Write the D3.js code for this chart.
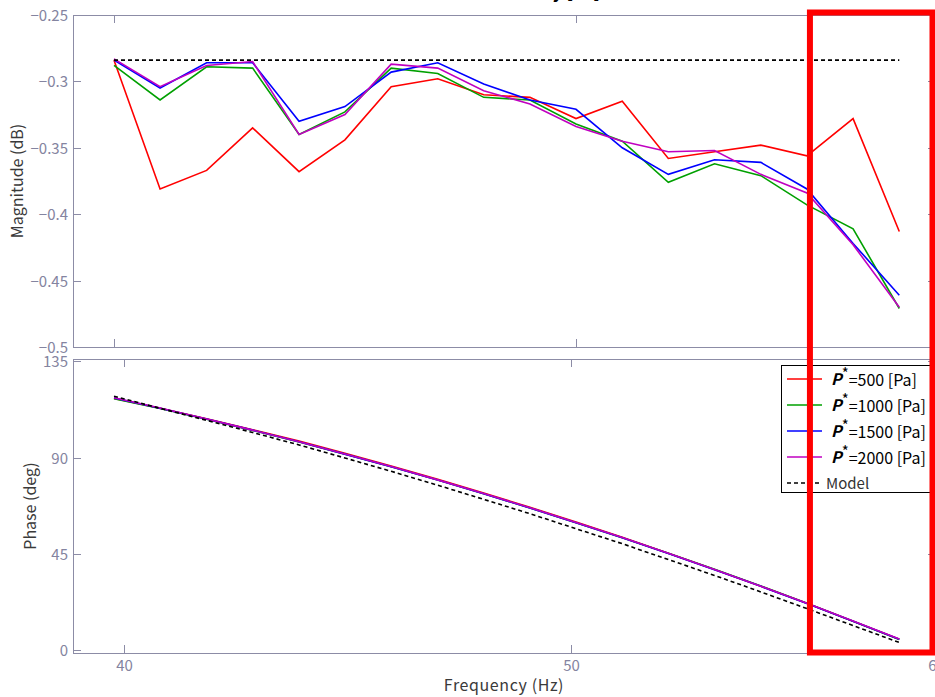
<!DOCTYPE html>
<html>
<head>
<meta charset="utf-8">
<script src="https://cdn.jsdelivr.net/npm/d3@7/dist/d3.min.js"></script>
<style>
  html, body { margin: 0; padding: 0; background: #fff; }
  svg { display: block; }
  text { font-family: "Noto Sans CJK JP", "Noto Sans", sans-serif; }
</style>
</head>
<body>
<svg id="chart" width="935" height="697"></svg>
<script>
// Frequency points (Hz), log-spaced
const freq = [40.00, 40.90, 41.83, 42.77, 43.74, 44.72, 45.73, 46.77, 47.82,
              48.90, 50.00, 51.13, 52.28, 53.46, 54.67, 55.90, 57.16, 58.45];

// Magnitude (dB) per pressure setting
const mag500  = [-0.284, -0.381, -0.367, -0.335, -0.368, -0.344, -0.304, -0.298, -0.310,
                 -0.312, -0.328, -0.315, -0.358, -0.353, -0.348, -0.356, -0.328, -0.413];
const mag1000 = [-0.288, -0.314, -0.289, -0.290, -0.340, -0.323, -0.290, -0.294, -0.312,
                 -0.314, -0.332, -0.345, -0.376, -0.362, -0.371, -0.393, -0.411, -0.471];
const mag1500 = [-0.284, -0.305, -0.286, -0.286, -0.330, -0.319, -0.293, -0.286, -0.302,
                 -0.314, -0.321, -0.350, -0.370, -0.359, -0.361, -0.381, -0.422, -0.461];
const mag2000 = [-0.283, -0.304, -0.288, -0.285, -0.340, -0.325, -0.287, -0.290, -0.307,
                 -0.317, -0.334, -0.345, -0.353, -0.352, -0.370, -0.384, -0.423, -0.470];
const magModel = [-0.284, -0.284, -0.284, -0.284, -0.284, -0.284, -0.284, -0.284, -0.284,
                  -0.284, -0.284, -0.284, -0.284, -0.284, -0.284, -0.284, -0.284, -0.284];

// Phase (deg) per pressure setting
const ph500  = [117.6, 113.0, 108.1, 103.0, 97.7, 92.0, 86.1, 79.9, 73.5,
                66.8, 59.9, 52.8, 45.4, 37.8, 30.0, 22.0, 13.6, 5.2];
const ph1000 = [117.5, 112.9, 107.9, 102.7, 97.3, 91.6, 85.7, 79.5, 73.1,
                66.5, 59.6, 52.6, 45.3, 37.9, 30.1, 22.0, 13.6, 5.1];
const ph1500 = [117.8, 113.0, 108.0, 102.8, 97.4, 91.6, 85.7, 79.5, 73.1,
                66.5, 59.6, 52.6, 45.2, 37.7, 29.9, 21.9, 13.6, 5.2];
const ph2000 = [117.9, 113.1, 108.0, 102.8, 97.4, 91.7, 85.8, 79.6, 73.2,
                66.6, 59.7, 52.7, 45.3, 37.8, 30.0, 22.0, 13.7, 5.3];
const phModel = [118.6, 113.0, 107.4, 101.7, 95.9, 89.8, 83.6, 77.1, 70.5,
                 63.8, 56.8, 49.8, 42.4, 35.0, 27.3, 19.5, 11.6, 3.7];

const pressures = [500, 1000, 1500, 2000];
const seriesColors = ["#ff0000", "#00a000", "#0000ff", "#c000c0"];
const magTicks = [-0.25, -0.3, -0.35, -0.4, -0.45, -0.5];
const phaseTicks = [0, 45, 90, 135];
const freqTicks = [40, 50, 60];
const highlightFrom = 55.9;   // start of the highlighted high-frequency band (Hz)

const svg = d3.select("#chart");
const axisColor = "#8c8ca6";
const tickTextColor = "#8484a0";
const labelColor = "#3a3a3a";

const left = 73, right = 935;
const top1 = 15, bot1 = 347;
const top2 = 359, bot2 = 653;

// data scale shared by both panels
const x = d3.scaleLog().domain([40, 50]).range([114, 576]);
// tick placement of the lower frequency axis
const xAxisLow = d3.scaleLog().domain([40, 50]).range([124, 571]);
const yMag = d3.scaleLinear().domain([-0.5, -0.25]).range([bot1, top1]);
const yPh = d3.scaleLinear().domain([-1.2, 136]).range([bot2, top2]);

const fmt = v => d3.format("~g")(v);

function frame(t, b) {
  svg.append("rect").attr("x", left + 0.5).attr("y", t + 0.5)
    .attr("width", right - left).attr("height", b - t)
    .attr("fill", "none").attr("stroke", axisColor).attr("stroke-width", 1);
}

// title (sits above the visible area, only descenders show)
svg.append("text").attr("x", 600).attr("y", -2).attr("text-anchor", "end")
  .attr("font-size", 17).attr("font-weight", "bold").attr("fill", "#000")
  .text("Sensitivity [Pa]");

// ---------- Magnitude panel ----------
frame(top1, bot1);
magTicks.forEach(v => {
  const yy = Math.round(yMag(v)) + 0.5;
  svg.append("line").attr("x1", left).attr("x2", left + 8).attr("y1", yy).attr("y2", yy)
    .attr("stroke", axisColor);
  svg.append("line").attr("x1", right - 7).attr("x2", right).attr("y1", yy).attr("y2", yy)
    .attr("stroke", axisColor);
  svg.append("text").attr("x", 68).attr("y", yy).attr("dy", "0.35em")
    .attr("text-anchor", "end").attr("font-size", 15).attr("fill", tickTextColor)
    .text(fmt(v));
});
freqTicks.forEach(f => {
  const xx = Math.round(x(f)) + 0.5;
  if (xx > right) return;
  svg.append("line").attr("x1", xx).attr("x2", xx).attr("y1", top1).attr("y2", top1 + 8)
    .attr("stroke", axisColor);
  svg.append("line").attr("x1", xx).attr("x2", xx).attr("y1", bot1).attr("y2", bot1 - 8)
    .attr("stroke", axisColor);
});
svg.append("text")
  .attr("transform", `translate(23,${(top1 + bot1) / 2}) rotate(-90)`)
  .attr("text-anchor", "middle").attr("font-size", 16).attr("fill", labelColor)
  .text("Magnitude (dB)");

const magLine = d3.line().x((d, i) => x(freq[i])).y(d => yMag(d));
[mag500, mag1000, mag1500, mag2000].forEach((s, k) => {
  svg.append("path").datum(s).attr("d", magLine).attr("fill", "none")
    .attr("stroke", seriesColors[k]).attr("stroke-width", 1.6);
});
svg.append("path").datum(magModel).attr("d", magLine).attr("fill", "none")
  .attr("stroke", "#000").attr("stroke-width", 1.6).attr("stroke-dasharray", "4,3");

// ---------- Phase panel ----------
frame(top2, bot2);
phaseTicks.forEach(v => {
  const yy = Math.round(yPh(v)) + 0.5;
  svg.append("line").attr("x1", left).attr("x2", left + 8).attr("y1", yy).attr("y2", yy)
    .attr("stroke", axisColor);
  svg.append("line").attr("x1", right - 7).attr("x2", right).attr("y1", yy).attr("y2", yy)
    .attr("stroke", axisColor);
  svg.append("text").attr("x", 68).attr("y", yy).attr("dy", "0.35em")
    .attr("text-anchor", "end").attr("font-size", 15).attr("fill", tickTextColor)
    .text(fmt(v));
});
freqTicks.forEach(f => {
  const xx = Math.round(xAxisLow(f)) + 0.5;
  svg.append("line").attr("x1", xx).attr("x2", xx).attr("y1", top2).attr("y2", top2 + 8)
    .attr("stroke", axisColor);
  svg.append("line").attr("x1", xx).attr("x2", xx).attr("y1", bot2).attr("y2", bot2 - 8)
    .attr("stroke", axisColor);
  svg.append("text").attr("x", xx).attr("y", 671).attr("text-anchor", "middle")
    .attr("font-size", 15).attr("fill", tickTextColor).text(fmt(f));
});
svg.append("text")
  .attr("transform", `translate(36,${(top2 + bot2) / 2}) rotate(-90)`)
  .attr("text-anchor", "middle").attr("font-size", 16).attr("fill", labelColor)
  .text("Phase (deg)");
svg.append("text").attr("x", 504).attr("y", 691).attr("text-anchor", "middle")
  .attr("font-size", 16).attr("letter-spacing", "0.6px").attr("fill", labelColor)
  .text("Frequency  (Hz)");

const phLine = d3.line().x((d, i) => x(freq[i])).y(d => yPh(d));
[ph500, ph1000, ph1500, ph2000].forEach((s, k) => {
  svg.append("path").datum(s).attr("d", phLine).attr("fill", "none")
    .attr("stroke", seriesColors[k]).attr("stroke-width", 1.6);
});
svg.append("path").datum(phModel).attr("d", phLine).attr("fill", "none")
  .attr("stroke", "#000").attr("stroke-width", 1.6).attr("stroke-dasharray", "4,3");

// ---------- Legend ----------
const lg = svg.append("g");
lg.append("rect").attr("x", 781.5).attr("y", 365.5).attr("width", 152).attr("height", 127)
  .attr("fill", "#fff").attr("stroke", "#000").attr("stroke-width", 1);
const rowY = i => 379 + 26 * i;
pressures.forEach((p, i) => {
  lg.append("line").attr("x1", 787).attr("x2", 822).attr("y1", rowY(i)).attr("y2", rowY(i))
    .attr("stroke", seriesColors[i]).attr("stroke-width", 1.6);
  const t = lg.append("text").attr("x", 831).attr("y", rowY(i)).attr("dy", "0.4em")
    .attr("font-size", 16).attr("fill", "#000");
  t.append("tspan").attr("font-weight", "bold").attr("font-style", "italic").text("P");
  t.append("tspan").attr("dy", "-0.45em").attr("font-size", 15).text("*");
  t.append("tspan").attr("dy", "0.45em").text(`=${p} [Pa]`);
});
lg.append("line").attr("x1", 787).attr("x2", 822).attr("y1", rowY(4)).attr("y2", rowY(4))
  .attr("stroke", "#000").attr("stroke-width", 1.6).attr("stroke-dasharray", "4,3");
lg.append("text").attr("x", 826).attr("y", rowY(4)).attr("dy", "0.38em")
  .attr("font-size", 15).attr("fill", "#333").text("Model");

// ---------- Highlighted band ----------
svg.append("rect")
  .attr("x", x(highlightFrom) + 3).attr("y", 12.5)
  .attr("width", 932.5 - (x(highlightFrom) + 3)).attr("height", 640)
  .attr("fill", "none").attr("stroke", "#ff0000").attr("stroke-width", 6);
</script>
</body>
</html>
